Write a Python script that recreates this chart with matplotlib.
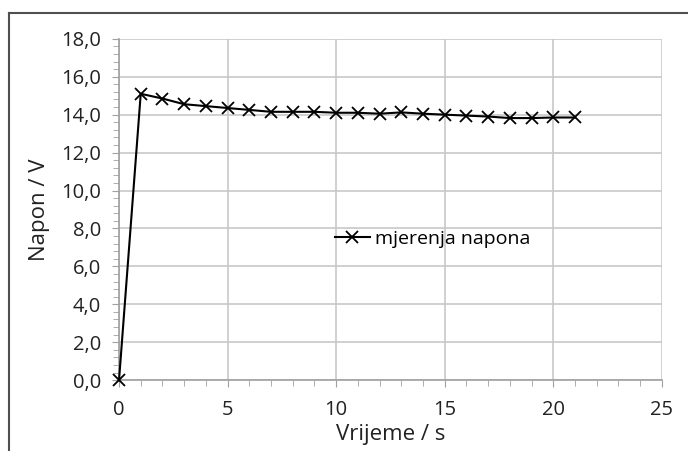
import matplotlib
matplotlib.use("Agg")
import matplotlib.pyplot as plt
from matplotlib.ticker import FuncFormatter, MultipleLocator
from matplotlib.lines import Line2D

# measured data
vrijeme = [0, 1, 2, 3, 4, 5, 6, 7, 8, 9, 10, 11, 12, 13, 14, 15, 16, 17, 18, 19, 20, 21]
napon = [0.0, 15.1, 14.85, 14.55, 14.45, 14.35, 14.25, 14.15, 14.15, 14.15, 14.1, 14.1,
         14.05, 14.12, 14.05, 14.0, 13.95, 13.9, 13.82, 13.82, 13.85, 13.85]

plt.rcParams['font.family'] = ['Open Sans', 'DejaVu Sans']

fig = plt.figure(figsize=(6.88, 4.51), dpi=100)
ax = fig.add_axes([0.173, 0.157, 0.789, 0.757])

ax.plot(vrijeme, napon, color="black", lw=1.5, marker="x", markersize=9,
        markeredgewidth=1.3, label="mjerenja napona", clip_on=False, zorder=5)

ax.set_xlim(0, 25)
ax.set_ylim(0, 18)
ax.xaxis.set_major_locator(MultipleLocator(5))
ax.xaxis.set_minor_locator(MultipleLocator(1))
ax.yaxis.set_major_locator(MultipleLocator(2))
ax.yaxis.set_minor_locator(MultipleLocator(0.4))
ax.yaxis.set_major_formatter(FuncFormatter(lambda v, p: f"{v:.1f}".replace(".", ",")))

ax.grid(True, which="major", color="#c8c8c8", lw=1.2)
ax.set_axisbelow(True)
for s in ["top", "right"]:
    ax.spines[s].set_visible(False)
for s in ["left", "bottom"]:
    ax.spines[s].set_color("#a0a0a0")
    ax.spines[s].set_linewidth(1.2)
ax.tick_params(which="both", color="#a0a0a0", labelsize=14.5, labelcolor="#222222")
ax.tick_params(which="major", length=5)
ax.tick_params(which="minor", length=4)
ax.tick_params(axis="x", pad=9)
ax.tick_params(axis="y", pad=8)

ax.set_xlabel("Vrijeme / s", fontsize=16, color="#222222", labelpad=3)
ax.set_ylabel("Napon / V", fontsize=16, color="#222222", labelpad=8)

ax.legend(loc="center left", bbox_to_anchor=(0.365, 0.415), frameon=False,
          fontsize=14, handlelength=1.8, handletextpad=0.3)

# outer chart frame
fig.add_artist(Line2D([0.013, 1.0], [0.971, 0.971], color="#505050", lw=1.5))
fig.add_artist(Line2D([0.013, 0.013], [0.0, 0.971], color="#505050", lw=1.5))

fig.savefig("out.png", dpi=100)
